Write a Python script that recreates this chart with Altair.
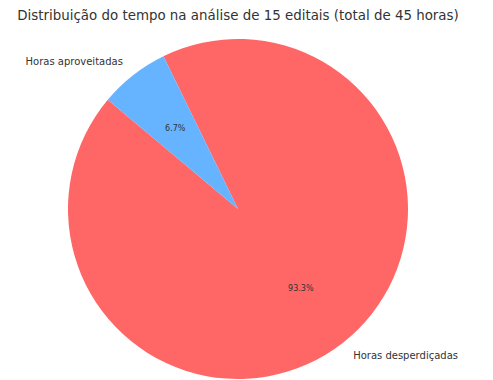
import math
import altair as alt
import pandas as pd

categories = ["Horas desperdiçadas", "Horas aproveitadas"]
hours = [42, 3]
pct_labels = ["93.3%", "6.7%"]
order_idx = [0, 1]
colors = ["#ff6666", "#66b3ff"]
title_text = "Distribuição do tempo na análise de 15 editais (total de 45 horas)"

df = pd.DataFrame({"cat": categories, "hours": hours, "pct": pct_labels, "idx": order_idx})

start = math.radians(334)
theta_scale = alt.Scale(domain=[0, sum(hours)], range=[start, start + 2 * math.pi])
color_scale = alt.Scale(domain=categories, range=colors)

CX, CY, R = 230, 201, 170

base = alt.Chart(df)

arcs = base.mark_arc(radius=R, stroke=None).encode(
    theta=alt.Theta("hours:Q", stack=True, scale=theta_scale),
    color=alt.Color("cat:N", scale=color_scale, legend=None),
    order=alt.Order("idx:Q"),
    x=alt.value(CX),
    y=alt.value(CY),
)

mid = base.transform_window(
    cum="sum(hours)", sort=[alt.SortField("idx")], frame=[None, 0]
).transform_calculate(mid="datum.cum - datum.hours / 2")

pct = mid.mark_text(radius=R * 0.6, fontSize=8, color="#333333", font="DejaVu Sans",
                    baseline="middle", align="center").encode(
    theta=alt.Theta("mid:Q", stack=None, scale=theta_scale),
    text="pct:N",
    x=alt.value(CX),
    y=alt.value(CY),
)

lab_left = mid.transform_filter("datum.idx == 1").mark_text(
    radius=R * 1.1, fontSize=10, color="#333333", font="DejaVu Sans",
    baseline="middle", align="right").encode(
    theta=alt.Theta("mid:Q", stack=None, scale=theta_scale),
    text="cat:N",
    x=alt.value(CX),
    y=alt.value(CY),
)

lab_right = mid.transform_filter("datum.idx == 0").mark_text(
    radius=R * 1.1, fontSize=10, color="#333333", font="DejaVu Sans",
    baseline="middle", align="left").encode(
    theta=alt.Theta("mid:Q", stack=None, scale=theta_scale),
    text="cat:N",
    x=alt.value(CX),
    y=alt.value(CY),
)

title = alt.Chart(pd.DataFrame({"t": [title_text]})).mark_text(
    fontSize=13.4, color="#333333", font="DejaVu Sans", baseline="middle", align="center"
).encode(text="t:N", x=alt.value(CX), y=alt.value(8))

chart = alt.layer(arcs, pct, lab_left, lab_right, title).properties(
    width=477, height=372, padding=0, autosize=alt.AutoSizeParams(type="none")
).configure_view(stroke=None)

chart.save("out.html", embed_options={"renderer": "svg", "actions": False})
